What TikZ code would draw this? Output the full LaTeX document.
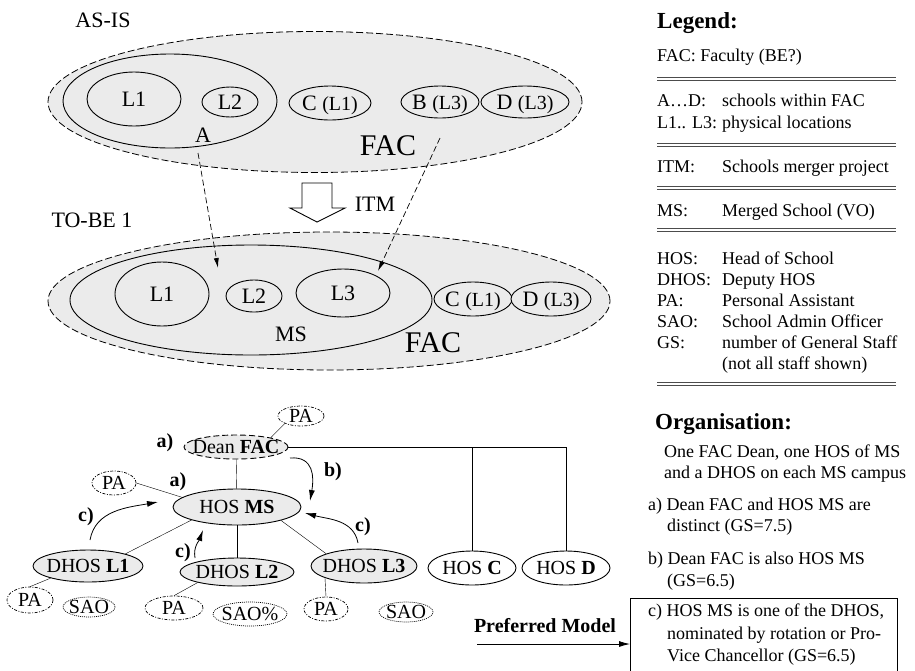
\documentclass[tikz,border=0pt]{standalone}
\usepackage{fontspec}
\setmainfont{Liberation Serif}
\usetikzlibrary{shapes.geometric,arrows.meta}

\newcommand{\diagfont}{\fontsize{22}{24}\selectfont}
\newcommand{\subfont}{\fontsize{20}{22}\selectfont}
\newcommand{\facfont}{\fontsize{30}{32}\selectfont}
\newcommand{\orgfont}{\fontsize{20}{22}\selectfont}
\newcommand{\legfont}{\fontsize{18}{21}\selectfont}
\newcommand{\headfont}{\fontsize{23}{25}\selectfont\bfseries}
\newcommand{\ctr}[1]{\raisebox{-0.34em}[0pt][0pt]{\makebox[0pt]{#1}}}

\tikzset{
  oval/.style 2 args={ellipse, inner sep=0pt, minimum width=#1pt, minimum height=#2pt},
  zone/.style={draw, line width=0.8pt, dash pattern=on 7pt off 3pt, fill=black!8},
  blob/.style={draw, fill=black!8, line width=0.9pt, font=\diagfont},
  role/.style={draw, fill=black!8, line width=0.9pt, font=\orgfont},
  unit/.style={draw, fill=white, line width=0.9pt, font=\orgfont},
  aide/.style={draw, fill=white, line width=0.7pt, dash pattern=on 3pt off 1.5pt on 1pt off 1.5pt, font=\orgfont},
  clerk/.style={draw, fill=white, line width=0.7pt, dash pattern=on 1pt off 1pt, font=\orgfont},
  plain/.style={inner sep=0pt, font=\diagfont},
  move/.style={line width=0.7pt, dash pattern=on 6pt off 3pt, -{Latex[length=10pt,width=5pt]}},
  pick/.style={line width=0.8pt, -{Latex[length=11pt,width=6pt]}},
  tag/.style={inner sep=0pt, font=\orgfont\bfseries},
  legline/.style={anchor=base west, inner sep=0pt, font=\legfont},
  legsep/.style={draw=black!70, double, double distance=2.2pt, line width=0.8pt},
}

\begin{document}
\begin{tikzpicture}[x=1pt,y=-1pt]
\useasboundingbox (0,0) rectangle (915,670);

% as-is
\node[plain] (asis) at (103,20) {AS-IS};
\node[zone, oval={534}{141}] (facold) at (315,102) {};
\node[blob, oval={214}{94}] (schoola) at (170,101) {};
\node[blob, oval={94}{54}] (aloc1) at (134,99) {\ctr{L1}};
\node[blob, oval={56}{30}] (aloc2) at (230,102) {\ctr{L2}};
\node[plain] (alabel) at (203,135) {A};
\node[blob, oval={82}{34}] (schoolc) at (330,103) {\ctr{C {\subfont(L1)}}};
\node[blob, oval={78}{32}] (schoolb) at (440,102) {\ctr{B {\subfont(L3)}}};
\node[blob, oval={88}{32}] (schoold) at (525,102) {\ctr{D {\subfont(L3)}}};
\node[plain, font=\facfont] (facoldlabel) at (388,146) {FAC};

\draw[line width=0.9pt, fill=white] (302,183) -- (332,183) -- (332,208) -- (345,208)
  -- (317,222) -- (290,208) -- (302,208) -- cycle;
\node[plain] (itm) at (375,204) {ITM};

% to-be 1
\node[plain] (tobe) at (92,220) {TO-BE 1};
\node[zone, oval={562}{138}] (facnew) at (329,301) {};
\node[blob, oval={362}{110}] (merged) at (251,300) {};
\node[blob, oval={94}{64}] (mloc1) at (162,294) {\ctr{L1}};
\node[blob, oval={56}{32}] (mloc2) at (254,296) {\ctr{L2}};
\node[blob, oval={94}{48}] (mloc3) at (343,293) {\ctr{L3}};
\node[plain] (mslabel) at (291,334) {MS};
\node[plain, font=\facfont] (facnewlabel) at (433,343) {FAC};
\node[blob, oval={78}{34}] (newc) at (473,299) {\ctr{C {\subfont(L1)}}};
\node[blob, oval={80}{34}] (newd) at (551,299) {\ctr{D {\subfont(L3)}}};

\coordinate (fromA) at (198,153);
\coordinate (toA) at (218,268);
\coordinate (fromB) at (440,138);
\coordinate (toB) at (378,271);
\draw[move] (fromA) -- (toA);
\draw[move] (fromB) -- (toB);

% organisation chart
\node[aide, oval={46}{20}] (deanpa) at (301,416) {\ctr{PA}};
\node[role, oval={104}{24}, dash pattern=on 6pt off 3pt] (dean) at (236,447) {\ctr{Dean \textbf{FAC}}};
\node[role, oval={128}{36}] (hosms) at (237,507) {\ctr{HOS \textbf{MS}}};
\node[aide, oval={44}{24}] (hospa) at (114,483) {\ctr{PA}};
\node[role, oval={110}{32}] (dhos1) at (88,566) {\ctr{DHOS \textbf{L1}}};
\node[role, oval={114}{28}] (dhos2) at (237,572) {\ctr{DHOS \textbf{L2}}};
\node[role, oval={106}{34}] (dhos3) at (364,566) {\ctr{DHOS \textbf{L3}}};
\node[unit, oval={88}{34}] (hosc) at (472,568) {\ctr{HOS \textbf{C}}};
\node[unit, oval={88}{34}] (hosd) at (566,568) {\ctr{HOS \textbf{D}}};
\node[aide, oval={46}{26}] (pa1) at (30,600) {\ctr{PA}};
\node[clerk, oval={52}{20}] (sao1) at (89,607) {\ctr{SAO}};
\node[aide, oval={58}{24}] (pa2) at (174,608) {\ctr{PA}};
\node[clerk, oval={74}{24}] (sao2) at (250,614) {\ctr{SAO\%}};
\node[aide, oval={44}{24}] (pa3) at (326,609) {\ctr{PA}};
\node[clerk, oval={54}{20}] (sao3) at (406,612) {\ctr{SAO}};

\draw (deanpa.205) -- (dean.15);
\draw (dean) -- (hosms);
\draw (hospa.east) -- (hosms.170);
\draw (hosms.196) -- (dhos1.18);
\draw (hosms) -- (dhos2);
\draw (hosms.343) -- (dhos3.162);
\draw (dhos1.198) -- (pa1.north);
\draw (dhos2.195) -- (pa2.north);
\draw (dhos3.197) -- (pa3.north);
\draw (dean.east) -| (hosd.north);
\draw (hosc.north) -- (hosc.north |- dean.east);

\coordinate (bfrom) at (290,458);
\coordinate (bto) at (310,501);
\draw[pick] (bfrom) to[out=5, in=80, looseness=1.3] (bto);
\coordinate (c1from) at (90,540);
\coordinate (c1to) at (158,502);
\draw[pick] (c1from) to[out=80, in=190] (c1to);
\coordinate (c2from) at (195,558);
\coordinate (c2to) at (203,530);
\draw[pick] (c2from) to[out=100, in=250] (c2to);
\coordinate (c3from) at (358,543);
\coordinate (c3to) at (305,513);
\draw[pick] (c3from) to[out=100, in=345] (c3to);

\node[tag] (taga1) at (165,443) {a)};
\node[tag] (taga2) at (178,482) {a)};
\node[tag] (tagb) at (333,472) {b)};
\node[tag] (tagc1) at (86,517) {c)};
\node[tag] (tagc2) at (183,553) {c)};
\node[tag] (tagc3) at (363,527) {c)};

% preferred model
\node[inner sep=0pt, font=\fontsize{20}{22}\selectfont\bfseries] (pref) at (545,626) {Preferred Model};
\node[draw, line width=1pt, anchor=north west, minimum width=267pt, minimum height=76pt, inner sep=0pt] (prefbox) at (630,598) {};
\coordinate (preftail) at (477,644);
\draw[pick] (preftail) -- (preftail -| prefbox.west);

% legend
\node[anchor=base west, inner sep=0pt, font=\headfont] (legend) at (657,28) {Legend:};
\node[legline] (legfac) at (657,61) {FAC: Faculty (BE?)};
\foreach \y/\k/\v [count=\i] in {106/A…D:/schools within FAC, 128/L1.. L3:/physical locations,
  172/ITM:/Schools merger project, 216/MS:/Merged School (VO), 264/HOS:/Head of School,
  285/DHOS:/Deputy HOS, 306/PA:/Personal Assistant, 327/SAO:/School Admin Officer,
  348/GS:/number of General Staff, 369//(not all staff shown)}
  \node[legline] (leg\i) at (657,\y) {\makebox[65pt][l]{\k}\v};
\foreach \y in {79,145,188,230,384}
  \draw[legsep] (657,\y) -- (896,\y);

\node[anchor=base west, inner sep=0pt, font=\headfont] (orghead) at (655,429) {Organisation:};
\foreach \y/\x/\t [count=\i] in {457/664/{One FAC Dean, one HOS of MS}, 478/664/and a DHOS on each MS campus,
  510/648/a) Dean FAC and HOS MS are, 531/667/distinct (GS=7.5),
  564/648/b) Dean FAC is also HOS MS, 586/667/(GS=6.5),
  616/648/{c) HOS MS is one of the DHOS,}, 639/667/nominated by rotation or Pro-,
  661/667/Vice Chancellor (GS=6.5)}
  \node[legline] (org\i) at (\x,\y) {\t};

\end{tikzpicture}
\end{document}
